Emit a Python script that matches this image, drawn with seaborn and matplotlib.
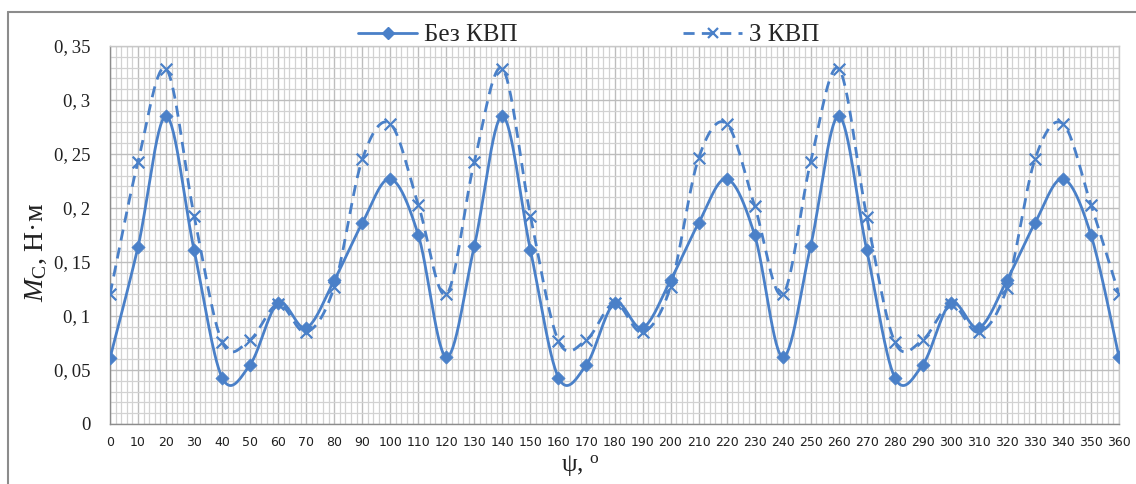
import numpy as np
import pandas as pd
import matplotlib
matplotlib.use("Agg")
import matplotlib.pyplot as plt
from matplotlib.lines import Line2D
from matplotlib.ticker import MultipleLocator, FuncFormatter
import seaborn as sns

# Rotation angle, degrees
psi = [0, 10, 20, 30, 40, 50, 60, 70, 80, 90, 100, 110, 120, 130, 140, 150, 160, 170, 180,
       190, 200, 210, 220, 230, 240, 250, 260, 270, 280, 290, 300, 310, 320, 330, 340, 350, 360]

# Moment without compensation
m_without = [0.061, 0.164, 0.285, 0.161, 0.043, 0.055, 0.112, 0.089, 0.133, 0.186, 0.227, 0.175,
             0.062, 0.165, 0.285, 0.161, 0.043, 0.055, 0.112, 0.089, 0.133, 0.186, 0.227, 0.175,
             0.062, 0.165, 0.285, 0.161, 0.043, 0.055, 0.112, 0.089, 0.133, 0.186, 0.227, 0.175,
             0.062]

# Moment with compensation
m_with = [0.120, 0.243, 0.329, 0.193, 0.076, 0.078, 0.111, 0.085, 0.127, 0.245, 0.278, 0.203,
          0.120, 0.243, 0.329, 0.193, 0.077, 0.078, 0.112, 0.085, 0.127, 0.246, 0.278, 0.202,
          0.120, 0.243, 0.329, 0.192, 0.076, 0.078, 0.111, 0.085, 0.126, 0.245, 0.278, 0.203,
          0.120]

series_names = ["Без КВП", "З КВП"]
y_ticks = [0, 0.05, 0.1, 0.15, 0.2, 0.25, 0.3, 0.35]
x_ticks = list(range(0, 361, 10))

BLUE = "#4A80C8"
DASH = (0, (4.0, 2.6))


def smooth(xs, ys, n=30):
    """Bezier smoothing with Catmull-Rom control points (spreadsheet-style smoothed line)."""
    xs = np.asarray(xs, float)
    ys = np.asarray(ys, float)
    px = np.concatenate([[xs[0]], xs, [xs[-1]]])
    py = np.concatenate([[ys[0]], ys, [ys[-1]]])
    out_x, out_y = [], []
    t = np.linspace(0, 1, n, endpoint=False)
    for i in range(1, len(px) - 2):
        p0 = np.array([px[i], py[i]])
        p3 = np.array([px[i + 1], py[i + 1]])
        c1 = p0 + (np.array([px[i + 1], py[i + 1]]) - np.array([px[i - 1], py[i - 1]])) / 6
        c2 = p3 - (np.array([px[i + 2], py[i + 2]]) - np.array([px[i], py[i]])) / 6
        b = ((1 - t) ** 3)[:, None] * p0 + (3 * (1 - t) ** 2 * t)[:, None] * c1 \
            + (3 * (1 - t) * t ** 2)[:, None] * c2 + (t ** 3)[:, None] * p3
        out_x.extend(b[:, 0])
        out_y.extend(b[:, 1])
    out_x.append(xs[-1])
    out_y.append(ys[-1])
    return np.array(out_x), np.array(out_y)


def y_label(v, pos):
    s = f"{v:.2f}".rstrip("0").rstrip(".")
    return s.replace(".", ",\u2009")


sns.set_theme(style="white")
plt.rcParams["font.family"] = ["Liberation Serif", "DejaVu Serif"]
plt.rcParams["mathtext.fontset"] = "custom"
plt.rcParams["mathtext.rm"] = "Liberation Serif"
plt.rcParams["mathtext.it"] = "Liberation Serif:italic"

fig = plt.figure(figsize=(11.36, 4.84), dpi=100)
ax = fig.add_axes([110 / 1136, 60 / 484, 1009 / 1136, 378 / 484])

# grid
ax.set_xlim(0, 360)
ax.set_ylim(0, 0.35)
ax.xaxis.set_major_locator(MultipleLocator(10))
ax.xaxis.set_minor_locator(MultipleLocator(2))
ax.yaxis.set_major_locator(MultipleLocator(0.05))
ax.yaxis.set_minor_locator(MultipleLocator(0.01))
ax.grid(which="major", color="#BDBDBD", linewidth=1.0)
ax.grid(which="minor", color="#D2D2D2", linewidth=0.9)
ax.set_axisbelow(True)

# smoothed curves
sx1, sy1 = smooth(psi, m_without)
sx2, sy2 = smooth(psi, m_with)
df1 = pd.DataFrame({"psi": sx1, "m": sy1})
df2 = pd.DataFrame({"psi": sx2, "m": sy2})
sns.lineplot(data=df1, x="psi", y="m", ax=ax, color=BLUE, linewidth=2.0, sort=False,
             estimator=None, zorder=3)
sns.lineplot(data=df2, x="psi", y="m", ax=ax, color=BLUE, linewidth=2.0, sort=False,
             estimator=None, zorder=3)
ax.lines[-1].set_linestyle(DASH)

# markers at the data points
pts = pd.DataFrame({"psi": psi, "without": m_without, "with": m_with})
sns.scatterplot(data=pts, x="psi", y="without", ax=ax, marker="D", s=45, color=BLUE,
                edgecolor=BLUE, linewidth=0.5, zorder=4)
sns.scatterplot(data=pts, x="psi", y="with", ax=ax, marker="x", s=70, color=BLUE,
                linewidth=1.6, zorder=4)

# axes styling
for side in ["left", "bottom"]:
    ax.spines[side].set_color("#8C8C8C")
    ax.spines[side].set_linewidth(1.0)
for side in ["top", "right"]:
    ax.spines[side].set_color("#C8C8C8")
    ax.spines[side].set_linewidth(1.0)

ax.set_xticks(x_ticks)
ax.set_yticks(y_ticks)
ax.tick_params(axis="both", which="major", direction="out", length=5, width=1, color="#8C8C8C")
ax.tick_params(axis="both", which="minor", length=0)
ax.tick_params(axis="y", labelsize=13.5, pad=9)
ax.tick_params(axis="x", labelsize=9, pad=4)
ax.yaxis.set_major_formatter(FuncFormatter(y_label))
for lab in ax.get_xticklabels():
    lab.set_fontfamily("DejaVu Sans")
    lab.set_color("#202020")
for lab in ax.get_yticklabels():
    lab.set_color("#202020")

ax.set_xlabel("")
ax.set_ylabel("")
fig.text(36 / 1136, 1 - 252 / 484, r"$\mathit{M}_{\mathrm{C}}$, Н·м", rotation=90,
         ha="center", va="center", fontsize=20, color="#202020")
fig.text(580 / 1136, 1 - 466 / 484, r"ψ, $^{\mathrm{o}}$", ha="center", va="center",
         fontsize=18, color="#202020")

# legend
handles = [
    Line2D([], [], color=BLUE, linewidth=2.0, marker="D", markersize=6),
    Line2D([], [], color=BLUE, linewidth=2.0, linestyle=DASH, marker="x",
           markersize=7, markeredgewidth=1.6),
]
fig.legend(handles, series_names, loc="center", bbox_to_anchor=(589 / 1136, 1 - 35 / 484),
           ncol=2, frameon=False, fontsize=18, handlelength=2.35, handletextpad=0.3,
           columnspacing=6.6, borderaxespad=0)

# chart area frame (left and top edges)
fig.add_artist(Line2D([8 / 1136, 8 / 1136], [0, 1 - 12 / 484], transform=fig.transFigure,
                      color="#8C8C8C", linewidth=1.5))
fig.add_artist(Line2D([8 / 1136, 1], [1 - 12 / 484, 1 - 12 / 484], transform=fig.transFigure,
                      color="#8C8C8C", linewidth=1.5))

fig.savefig("out.png", dpi=100, facecolor="white")
